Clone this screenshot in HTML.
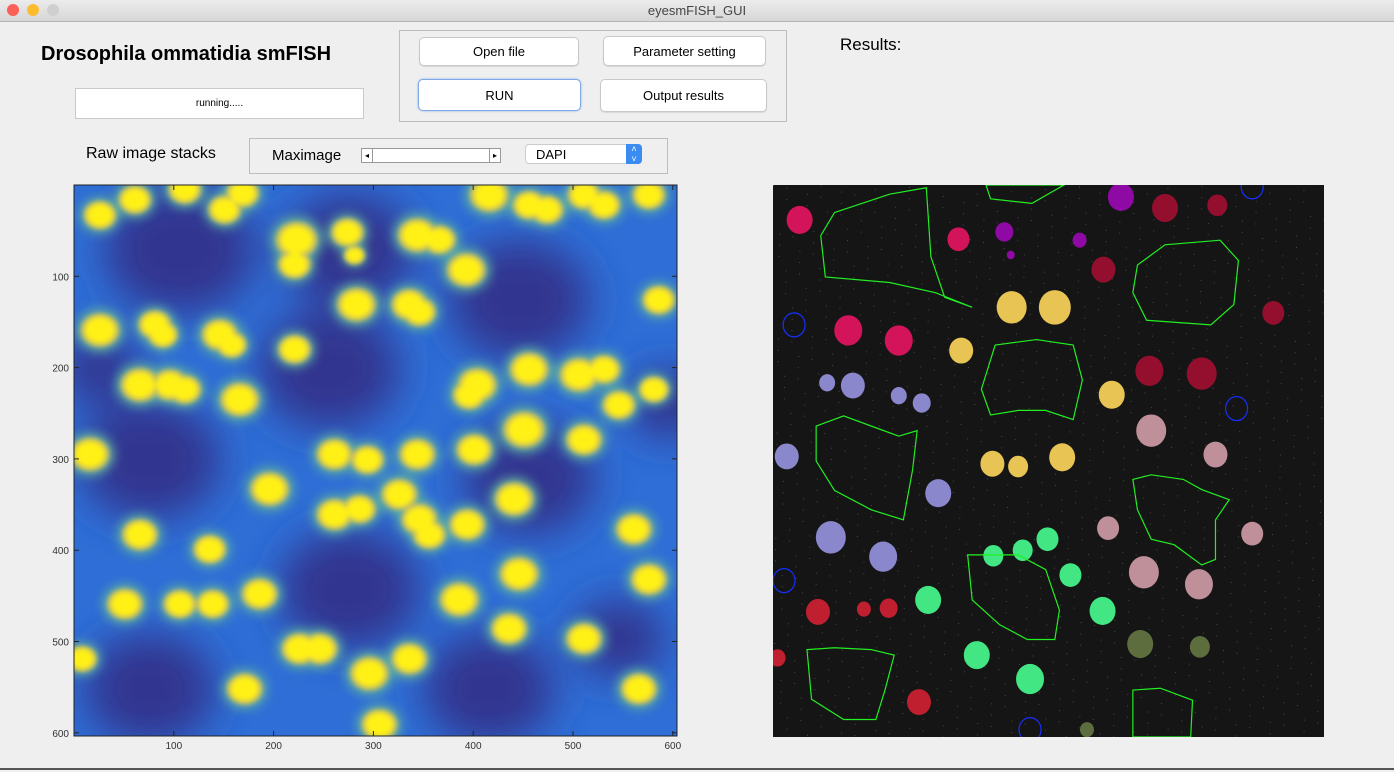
<!DOCTYPE html>
<html><head><meta charset="utf-8">
<style>
body{margin:0;width:1394px;height:772px;background:#efefef;font-family:"Liberation Sans",sans-serif;position:relative;overflow:hidden}
.abs{position:absolute}
.btn{position:absolute;background:#fff;border:1px solid #c8c8c8;border-radius:5px;font-size:13px;display:flex;align-items:center;justify-content:center;box-shadow:0 1px 1px rgba(0,0,0,.1)}
</style></head><body>
<div class="abs" style="left:0;top:0;width:1394px;height:21px;background:linear-gradient(#ececec,#d6d6d6);border-bottom:1px solid #b5b5b5"></div>
<div class="abs" style="left:7px;top:4px;width:12px;height:12px;border-radius:50%;background:#fc5f57"></div>
<div class="abs" style="left:27px;top:4px;width:12px;height:12px;border-radius:50%;background:#fdbc2e"></div>
<div class="abs" style="left:47px;top:4px;width:12px;height:12px;border-radius:50%;background:#cfcfcf"></div>
<div class="abs" style="left:0;width:1394px;top:3px;text-align:center;font-size:13px;color:#444">eyesmFISH_GUI</div>

<div class="abs" style="left:41px;top:43px;font-size:20px;font-weight:bold">Drosophila ommatidia smFISH</div>
<div class="abs" style="left:75px;top:88px;width:287px;height:29px;background:#fff;border:1px solid #c9c9c9;font-size:10px;display:flex;align-items:center;justify-content:center">running.....</div>
<div class="abs" style="left:399px;top:30px;width:386px;height:90px;border:1px solid #bdbdbd"></div>
<div class="btn" style="left:419px;top:37px;width:158px;height:27px">Open file</div>
<div class="btn" style="left:603px;top:36px;width:161px;height:28px">Parameter setting</div>
<div class="btn" style="left:418px;top:79px;width:161px;height:30px;border:1px solid #7fa9e6;box-shadow:0 0 2px #8ab4f0">RUN</div>
<div class="btn" style="left:600px;top:79px;width:165px;height:31px">Output results</div>
<div class="abs" style="left:840px;top:35px;font-size:17px">Results:</div>
<div class="abs" style="left:86px;top:145px;font-size:16px">Raw image stacks</div>
<div class="abs" style="left:249px;top:138px;width:417px;height:34px;border:1px solid #bdbdbd"></div>
<div class="abs" style="left:272px;top:147px;font-size:15px">Maximage</div>
<div class="abs" style="left:361px;top:148px;width:138px;height:13px;background:#fff;border:1px solid #999">
 <div class="abs" style="left:0;top:0;width:10px;height:13px;border-right:1px solid #999;font-size:8px;text-align:center;line-height:13px">◂</div>
 <div class="abs" style="right:0;top:0;width:10px;height:13px;border-left:1px solid #999;font-size:8px;text-align:center;line-height:13px">▸</div>
</div>
<div class="abs" style="left:525px;top:144px;width:117px;height:20px;background:#fff;border:1px solid #ccc;border-radius:4px;font-size:13px;line-height:20px;padding-left:10px;box-sizing:border-box">DAPI
 <div class="abs" style="right:-1px;top:-1px;width:16px;height:20px;background:#3b8cf2;border-radius:0 4px 4px 0;color:#fff;font-size:9px;text-align:center;line-height:10px">˄<br>˅</div>
</div>

<svg class="abs" style="left:0;top:0" width="1394" height="772">
<defs>
 <filter id="b1" x="-50%" y="-50%" width="200%" height="200%"><feGaussianBlur stdDeviation="20"/></filter>
 <filter id="b2" x="-50%" y="-50%" width="200%" height="200%"><feGaussianBlur stdDeviation="5"/></filter>
 <filter id="b3" x="-50%" y="-50%" width="200%" height="200%"><feGaussianBlur stdDeviation="2.5"/></filter>
 <clipPath id="cl"><rect x="74" y="185" width="603" height="551"/></clipPath>
 <clipPath id="cr"><rect x="773" y="185" width="551" height="552"/></clipPath>
</defs>
<g id="left" clip-path="url(#cl)"><rect x="74" y="185" width="603" height="551" fill="#2e6ed6"/></g>
<g id="leftaxes"></g>
<g id="right" clip-path="url(#cr)"><rect x="773" y="185" width="551" height="552" fill="#151515"/></g>
<line x1="0" y1="769" x2="1394" y2="769" stroke="#555" stroke-width="2"/>
</svg>
<script>
// data coordinates in image pixel units (0..600)
const darkX=[106,276,256,446,76,456,276,76,416,546,26,596];
const darkY=[71,71,202,126,301,322,443,552,552,497,202,240];
const darkR=[75,65,70,70,70,65,70,65,65,45,40,40];
const nucX=[26,61,111,151,169,223,274,281,344,366,416,456,474,511,531,576,393,221,283,336,346,81,89,146,158,221,26,66,96,111,166,404,456,506,531,396,546,451,511,581,586,16,261,294,344,401,196,326,261,286,346,356,394,441,561,66,136,446,386,186,51,106,139,246,296,336,436,511,576,171,226,566,306,8];
const nucY=[33,16,5,27,9,60,52,77,55,60,11,22,27,11,22,11,93,87,131,131,139,153,164,164,175,180,159,219,219,224,235,219,202,208,202,230,241,268,279,224,126,295,295,301,295,290,333,339,361,355,366,383,372,344,377,383,399,426,454,448,459,459,459,508,535,519,486,497,432,552,508,552,591,519];
const nucR=[11,11,11,11,11,14,11,7,13,11,13,11,11,11,11,11,13,11,13,12,11,11,10,12,10,11,13,13,12,11,13,13,13,13,11,11,11,14,12,10,11,13,12,11,12,12,13,12,12,11,12,11,12,13,12,12,11,13,13,12,12,11,11,12,13,12,12,12,12,12,12,12,12,10];
const xTicks=[100,200,300,400,500,600];
const yTicks=[100,200,300,400,500,600];
const NS='http://www.w3.org/2000/svg';
const lx=v=>74+v*0.998, ly=v=>185+v*0.913;
function mk(tag,attrs,parent){const e=document.createElementNS(NS,tag);for(const k in attrs)e.setAttribute(k,attrs[k]);parent.appendChild(e);return e;}
const L=document.getElementById('left');
const dg=mk('g',{filter:'url(#b1)'},L);
darkX.forEach((x,i)=>{const e=mk('ellipse',{cx:lx(x),cy:ly(darkY[i]),rx:darkR[i],ry:darkR[i]*0.85,fill:'#33358f'},dg);

});
const hg=mk('g',{filter:'url(#b2)'},L);
nucX.forEach((x,i)=>{const e=mk('ellipse',{cx:lx(x),cy:ly(nucY[i]),rx:nucR[i]*1.9,ry:nucR[i]*1.7,fill:'#5fb0a0',opacity:0.85},hg);

});
const mg=mk('g',{filter:'url(#b3)'},L);
nucX.forEach((x,i)=>{const e=mk('ellipse',{cx:lx(x),cy:ly(nucY[i]),rx:nucR[i]*1.5,ry:nucR[i]*1.3,fill:'#c8c060'},mg);

});
const ng=mk('g',{filter:'url(#b3)'},L);
nucX.forEach((x,i)=>{const e=mk('ellipse',{cx:lx(x),cy:ly(nucY[i]),rx:nucR[i]*1.15,ry:nucR[i]*1.0,fill:'#fff014'},ng);

});
const A=document.getElementById('leftaxes');
mk('rect',{x:74,y:185,width:603,height:551,fill:'none',stroke:'#222','stroke-width':1},A);
xTicks.forEach(t=>{mk('line',{x1:lx(t),x2:lx(t),y1:736,y2:731,stroke:'#222'},A);mk('line',{x1:lx(t),x2:lx(t),y1:185,y2:190,stroke:'#222'},A);
const tx=mk('text',{x:lx(t),y:749,'font-size':10,'text-anchor':'middle',fill:'#333','font-family':'Liberation Sans'},A);tx.textContent=t;

});
yTicks.forEach(t=>{mk('line',{x1:74,x2:79,y1:ly(t),y2:ly(t),stroke:'#222'},A);mk('line',{x1:677,x2:672,y1:ly(t),y2:ly(t),stroke:'#222'},A);
const tx=mk('text',{x:69,y:ly(t)+4,'font-size':10,'text-anchor':'end',fill:'#333','font-family':'Liberation Sans'},A);tx.textContent=t;

});

// right panel: segmentation results (data coordinates)
const blobX=[29,202,82,137,379,252,334,259,427,484,360,545,410,467,260,307,205,369,239,267,315,59,87,137,162,15,180,63,120,412,482,365,522,404,464,240,272,299,324,169,359,222,280,400,465,342,5,49,99,126,159];
const blobY=[38,59,158,169,13,51,60,76,25,22,92,139,202,205,133,133,180,228,303,306,296,215,218,229,237,295,335,383,404,267,293,373,379,421,434,403,397,385,424,451,463,511,537,499,502,592,514,464,461,460,562];
const blobR=[13,11,14,14,13,9,7,4,13,10,12,11,14,15,15,16,12,13,12,10,13,8,12,8,9,12,13,15,14,15,12,11,11,15,14,10,10,11,11,13,13,13,14,13,10,7,8,12,7,9,12];
const blobC=['#d4145a','#d4145a','#d4145a','#d4145a','#8f0aa4','#8f0aa4','#8f0aa4','#8f0aa4','#940f2e','#940f2e','#940f2e','#940f2e','#940f2e','#940f2e','#e8c455','#e8c455','#e8c455','#e8c455','#e8c455','#e8c455','#e8c455','#8b87cc','#8b87cc','#8b87cc','#8b87cc','#8b87cc','#8b87cc','#8b87cc','#8b87cc','#c0909a','#c0909a','#c0909a','#c0909a','#c0909a','#c0909a','#42e682','#42e682','#42e682','#42e682','#42e682','#42e682','#42e682','#42e682','#5e6d3d','#5e6d3d','#5e6d3d','#c01f30','#c01f30','#c01f30','#c01f30','#c01f30'];
const outlines=[
 [[67,30],[127,10],[167,3],[172,78],[187,122],[217,133],[177,117],[127,106],[57,100],[52,55]],
 [[232,0],[317,0],[282,20],[237,15]],
 [[397,87],[427,65],[487,60],[507,82],[502,130],[477,152],[407,147],[392,117]],
 [[242,174],[287,168],[327,174],[337,212],[327,255],[297,245],[267,245],[237,250],[227,222]],
 [[47,262],[77,251],[137,273],[157,267],[152,310],[142,364],[107,353],[67,332],[47,300]],
 [[392,320],[412,315],[447,320],[467,331],[497,342],[482,364],[482,407],[467,413],[437,391],[412,385],[397,353]],
 [[212,402],[267,402],[297,418],[312,462],[307,494],[277,494],[247,478],[217,451]],
 [[37,505],[67,503],[107,505],[132,511],[122,549],[112,581],[77,581],[42,559]],
 [[392,549],[422,547],[457,560],[455,600],[392,600]]];
const circX=[23,505,12,280,522], circY=[152,243,430,592,2];
const rx=v=>773+v*0.918, ry=v=>185+v*0.92;
const R=document.getElementById('right');
const pat=mk('g',{opacity:0.35},R);
for(let i=0;i<1400;i++){const x=(i*73.13)%551,y=(i*137.71)%552;mk('rect',{x:773+x,y:185+y,width:1,height:1,fill:'#aaa'},pat);}
blobX.forEach((x,i)=>{const e=mk('ellipse',{cx:rx(x),cy:ry(blobY[i]),rx:blobR[i],ry:blobR[i]*1.08,fill:blobC[i]},R);

});
outlines.forEach(o=>{const e=mk('polygon',{points:o.map(p=>rx(p[0])+','+ry(p[1])).join(' '),fill:'none',stroke:'#22ee22','stroke-width':1.2},R);

});
circX.forEach((x,i)=>{const e=mk('ellipse',{cx:rx(x),cy:ry(circY[i]),rx:11,ry:12,fill:'none',stroke:'#1530ff','stroke-width':1.2},R);

});
</script>
</body></html>
